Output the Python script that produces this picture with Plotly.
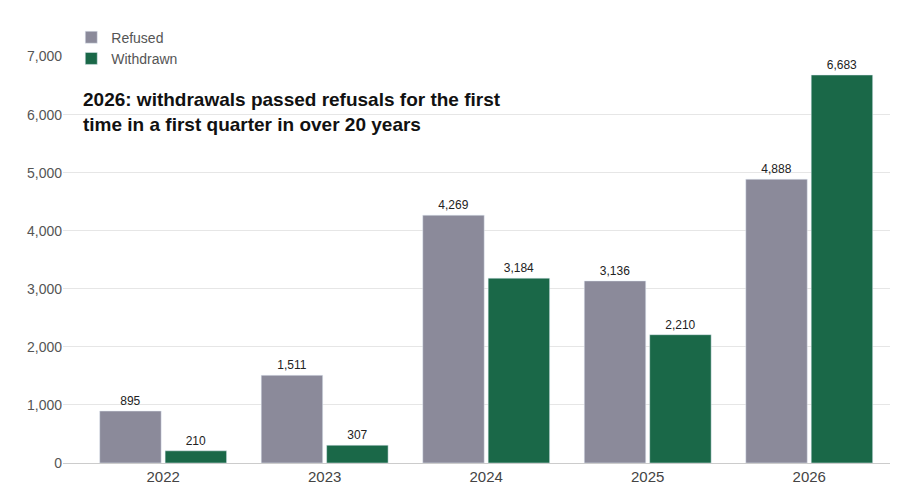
import plotly.graph_objects as go

years = ["2022", "2023", "2024", "2025", "2026"]
refused = [895, 1511, 4269, 3136, 4888]
withdrawn = [210, 307, 3184, 2210, 6683]

fig = go.Figure()
fig.add_trace(go.Bar(x=years, y=refused, name="Refused", marker_color="#8b8a9a",
                     text=[f"{v:,}" for v in refused], textposition="outside",
                     textfont=dict(size=12, color="#222"), cliponaxis=False))
fig.add_trace(go.Bar(x=years, y=withdrawn, name="Withdrawn", marker_color="#1a6848",
                     text=[f"{v:,}" for v in withdrawn], textposition="outside",
                     textfont=dict(size=12, color="#222"), cliponaxis=False))

fig.update_layout(
    width=900, height=491,
    margin=dict(l=55, r=18, t=10, b=36),
    plot_bgcolor="white", paper_bgcolor="white",
    font=dict(family="Liberation Sans, Arial", color="#555", size=14),
    barmode="group", bargap=0.19, bargroupgap=0.06,
    legend=dict(x=0.01, y=1.01, xanchor="left", yanchor="top",
                font=dict(size=14, color="#555"), tracegroupgap=0,
                bgcolor="rgba(0,0,0,0)"),
    showlegend=True,
)
fig.update_xaxes(range=[-0.62, 4.5], showgrid=False, showline=True, linecolor="#ccc",
                 ticks="", tickfont=dict(size=15, color="#444"))
fig.update_yaxes(range=[0, 7000], dtick=1000, tickformat=",", gridcolor="#e6e6e6",
                 zeroline=False, ticks="", tickfont=dict(size=14, color="#555"),
                 domain=[0, 0.93])
fig.add_annotation(xref="paper", yref="paper", x=0.022, y=0.86, xanchor="left", yanchor="top",
                   align="left", showarrow=False,
                   text="<b>2026: withdrawals passed refusals for the first<br>time in a first quarter in over 20 years</b>",
                   font=dict(size=19, color="#111"))
fig.write_html("out.html")
